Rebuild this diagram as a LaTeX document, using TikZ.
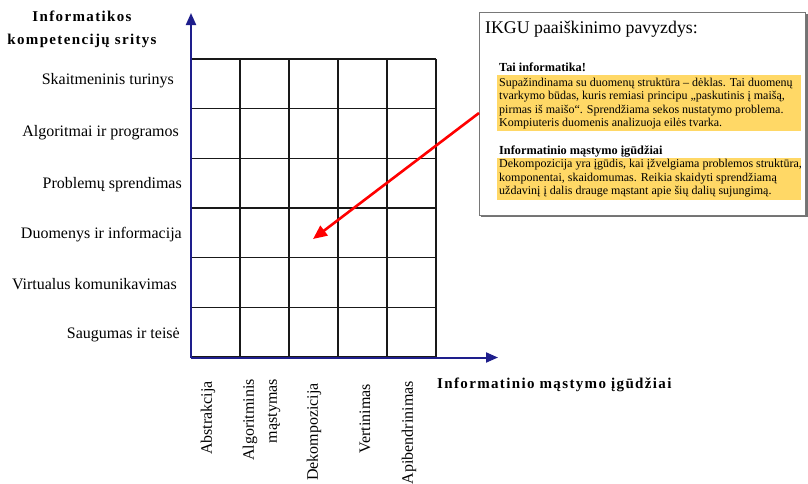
\documentclass[tikz,border=0pt]{standalone}
\usepackage{fontspec}
\setmainfont{Liberation Serif}
\newfontfamily\spacedbold[LetterSpace=9,BoldFont={Liberation Serif Bold}]{Liberation Serif}
\usetikzlibrary{arrows.meta}
\definecolor{axisblue}{RGB}{30,30,140}
\definecolor{hl}{RGB}{255,216,102}
\definecolor{boxgray}{RGB}{120,120,120}
\definecolor{gridblack}{RGB}{25,25,25}
\begin{document}
\begin{tikzpicture}[x=1pt,y=-1pt,
  rowlabel/.style={anchor=east,inner sep=0pt,text height=0.7em,text depth=0.25em,font=\fontsize{16}{18}\selectfont},
  collabel/.style={anchor=east,rotate=90,inner sep=0pt,font=\fontsize{16}{23}\selectfont,align=right},
  titletext/.style={inner sep=0pt,font=\spacedbold\bfseries\fontsize{15}{23}\selectfont,align=center},
  axis/.style={draw=axisblue,line width=2pt,-{Triangle[length=12pt,width=10pt]}},
  gridline/.style={draw=gridblack,line width=1.4pt},
  boxtext/.style={anchor=west,inner sep=0pt,text height=0.7em,text depth=0.25em,font=\fontsize{12}{13}\selectfont},
  boxhead/.style={anchor=west,inner sep=0pt,text height=0.7em,text depth=0.25em,font=\bfseries\fontsize{12.3}{13}\selectfont},
  redarrow/.style={draw=red,line width=2.6pt,-{Triangle[length=14pt,width=12pt]}}]
\useasboundingbox (0,0) rectangle (808,483);
% grid
\foreach \i in {0,...,5} {
  \draw[gridline] ({191+49*\i},59) -- ({191+49*\i},357);
}
\foreach \j in {0,...,6} {
  \draw[gridline] (191,{59+49.67*\j}) -- (436,{59+49.67*\j});
}
% axes
\coordinate (o) at (191,357.5);
\coordinate (ytip) at (191,13);
\coordinate (xtip) at (498,357.5);
\draw[axis] (o) -- (ytip);
\draw[axis] (o) -- (xtip);
% titles
\node[titletext] (ttl) at (82,29) {Informatikos\\kompetencijų sritys};
\node[titletext,anchor=west] (xttl) at (437,385) {Informatinio mąstymo įgūdžiai};
% row labels
\node[rowlabel] (r1) at (174,82) {Skaitmeninis turinys};
\node[rowlabel] (r2) at (179,134) {Algoritmai ir programos};
\node[rowlabel] (r3) at (182,186) {Problemų sprendimas};
\node[rowlabel] (r4) at (182,236) {Duomenys ir informacija};
\node[rowlabel] (r5) at (177,287) {Virtualus komunikavimas};
\node[rowlabel] (r6) at (180,336) {Saugumas ir teisė};
% column labels
\node[collabel] (c1) at (208,381) {Abstrakcija};
\node[collabel] (c2) at (261.5,379) {Algoritminis\\mąstymas};
\node[collabel] (c3) at (314,383) {Dekompozicija};
\node[collabel] (c4) at (365,384) {Vertinimas};
\node[collabel] (c5) at (409,381) {Apibendrinimas};
% explanation box
\fill[black!55] (481,14) rectangle (807.5,216.5);
\node[draw=boxgray,fill=white,line width=1pt,inner sep=0pt,minimum width=326pt,minimum height=203pt,anchor=north west] (box) at (479,12) {};
\node[anchor=west,inner sep=0pt,font=\fontsize{17.8}{20}\selectfont] (boxttl) at (485,29) {IKGU paaiškinimo pavyzdys:};
\fill[hl] (497,75) rectangle (801,131);
\fill[hl] (497,158) rectangle (801,199.5);
\node[boxhead] (h1) at (499,69) {Tai informatika!};
\node[boxtext] (t11) at (499,84) {Supažindinama su duomenų struktūra – dėklas. Tai duomenų};
\node[boxtext] (t12) at (499,97.5) {tvarkymo būdas, kuris remiasi principu „paskutinis į maišą,};
\node[boxtext] (t13) at (499,111) {pirmas iš maišo“. Sprendžiama sekos nustatymo problema.};
\node[boxtext] (t14) at (499,124.5) {Kompiuteris duomenis analizuoja eilės tvarka.};
\node[boxhead] (h2) at (499,152) {Informatinio mąstymo įgūdžiai};
\node[boxtext] (t21) at (499,165.5) {Dekompozicija yra įgūdis, kai įžvelgiama problemos struktūra,};
\node[boxtext] (t22) at (499,179) {komponentai, skaidomumas. Reikia skaidyti sprendžiamą};
\node[boxtext] (t23) at (499,192.5) {uždavinį į dalis drauge mąstant apie šių dalių sujungimą.};
% red arrow
\coordinate (rs) at (box.west |- 0,113);
\coordinate (rt) at (313,239);
\draw[redarrow] (rs) -- (rt);
\end{tikzpicture}
\end{document}
